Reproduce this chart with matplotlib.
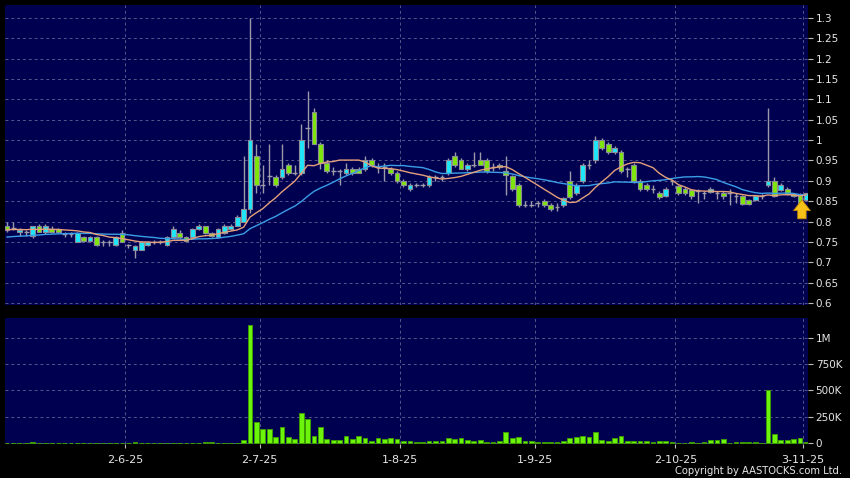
import numpy as np
import pandas as pd
import matplotlib
matplotlib.use("Agg")
import matplotlib.pyplot as plt

# ---------------- data ----------------
opens = [0.79, 0.785, 0.775, 0.775, 0.765, 0.79, 0.775, 0.782, 0.782, 0.77,
         0.77, 0.75, 0.762, 0.752, 0.762, 0.75, 0.75, 0.742, 0.772, 0.742,
         0.73, 0.73, 0.742, 0.75, 0.75, 0.742, 0.762, 0.772, 0.762, 0.762,
         0.782, 0.79, 0.772, 0.762, 0.772, 0.782, 0.79, 0.80, 0.83, 0.96,
         0.89, 0.912, 0.91, 0.91, 0.94, 0.92, 0.92, 1.03, 1.07, 0.99,
         0.945, 0.925, 0.925, 0.92, 0.93, 0.93, 0.93, 0.95, 0.935, 0.935,
         0.93, 0.92, 0.90, 0.88, 0.89, 0.89, 0.89, 0.91, 0.91, 0.92,
         0.96, 0.95, 0.93, 0.94, 0.95, 0.95, 0.935, 0.94, 0.925, 0.912,
         0.89, 0.84, 0.84, 0.845, 0.85, 0.84, 0.835, 0.84, 0.90, 0.87,
         0.90, 0.94, 0.95, 1.0, 0.99, 0.97, 0.97, 0.93, 0.94, 0.90,
         0.89, 0.88, 0.87, 0.862, 0.90, 0.887, 0.88, 0.877, 0.875, 0.87,
         0.872, 0.87, 0.87, 0.87, 0.862, 0.862, 0.853, 0.852, 0.862, 0.89,
         0.90, 0.877, 0.88, 0.867, 0.865, 0.852]
highs = [0.80, 0.80, 0.785, 0.78, 0.79, 0.795, 0.795, 0.79, 0.785, 0.775,
         0.775, 0.775, 0.765, 0.765, 0.765, 0.755, 0.755, 0.765, 0.78, 0.745,
         0.742, 0.752, 0.752, 0.755, 0.755, 0.765, 0.79, 0.78, 0.765, 0.785,
         0.795, 0.79, 0.775, 0.785, 0.795, 0.795, 0.815, 0.96, 1.30, 0.99,
         0.94, 0.99, 0.915, 0.99, 0.945, 0.94, 1.04, 1.12, 1.08, 0.995,
         0.95, 0.935, 0.93, 0.945, 0.935, 0.935, 0.96, 0.955, 0.945, 0.945,
         0.935, 0.925, 0.905, 0.895, 0.895, 0.895, 0.915, 0.915, 0.915, 0.955,
         0.97, 0.955, 0.945, 0.97, 0.97, 0.955, 0.945, 0.945, 0.96, 0.915,
         0.895, 0.85, 0.85, 0.85, 0.855, 0.845, 0.845, 0.86, 0.925, 0.895,
         0.945, 0.95, 1.01, 1.005, 0.995, 0.985, 0.975, 0.935, 0.945, 0.905,
         0.895, 0.89, 0.875, 0.885, 0.905, 0.89, 0.885, 0.88, 0.88, 0.875,
         0.885, 0.875, 0.875, 0.88, 0.87, 0.865, 0.855, 0.865, 0.868, 1.08,
         0.91, 0.895, 0.885, 0.87, 0.87, 0.87]
lows = [0.775, 0.78, 0.765, 0.765, 0.76, 0.775, 0.77, 0.772, 0.772, 0.762,
        0.762, 0.75, 0.75, 0.75, 0.74, 0.74, 0.74, 0.74, 0.75, 0.735,
        0.71, 0.73, 0.74, 0.745, 0.745, 0.74, 0.76, 0.76, 0.75, 0.76,
        0.78, 0.77, 0.762, 0.76, 0.77, 0.78, 0.79, 0.80, 0.82, 0.87,
        0.87, 0.89, 0.885, 0.905, 0.915, 0.915, 0.915, 0.98, 0.99, 0.93,
        0.92, 0.915, 0.89, 0.915, 0.915, 0.92, 0.925, 0.935, 0.92, 0.90,
        0.915, 0.895, 0.885, 0.875, 0.885, 0.885, 0.885, 0.90, 0.90, 0.915,
        0.935, 0.93, 0.925, 0.935, 0.94, 0.92, 0.925, 0.93, 0.865, 0.875,
        0.835, 0.835, 0.835, 0.835, 0.835, 0.825, 0.825, 0.835, 0.855, 0.865,
        0.895, 0.93, 0.945, 0.975, 0.965, 0.965, 0.92, 0.91, 0.895, 0.875,
        0.875, 0.87, 0.855, 0.86, 0.89, 0.865, 0.865, 0.855, 0.845, 0.855,
        0.87, 0.855, 0.855, 0.84, 0.845, 0.84, 0.84, 0.85, 0.855, 0.885,
        0.86, 0.875, 0.865, 0.86, 0.835, 0.85]
closes = [0.78, 0.785, 0.78, 0.775, 0.79, 0.775, 0.79, 0.775, 0.775, 0.77,
          0.77, 0.772, 0.752, 0.762, 0.742, 0.75, 0.75, 0.762, 0.75, 0.742,
          0.74, 0.75, 0.75, 0.75, 0.75, 0.762, 0.782, 0.762, 0.752, 0.782,
          0.79, 0.772, 0.764, 0.782, 0.79, 0.79, 0.81, 0.83, 1.0, 0.89,
          0.89, 0.912, 0.89, 0.93, 0.92, 0.92, 1.0, 1.03, 0.99, 0.945,
          0.925, 0.925, 0.925, 0.93, 0.92, 0.92, 0.95, 0.94, 0.935, 0.935,
          0.92, 0.90, 0.89, 0.89, 0.89, 0.89, 0.91, 0.91, 0.91, 0.95,
          0.94, 0.93, 0.94, 0.94, 0.94, 0.925, 0.935, 0.933, 0.915, 0.88,
          0.84, 0.84, 0.84, 0.845, 0.84, 0.83, 0.835, 0.858, 0.86, 0.89,
          0.94, 0.94, 1.0, 0.98, 0.97, 0.98, 0.925, 0.93, 0.90, 0.88,
          0.88, 0.88, 0.86, 0.88, 0.90, 0.87, 0.87, 0.862, 0.875, 0.87,
          0.88, 0.87, 0.862, 0.87, 0.862, 0.843, 0.843, 0.862, 0.862, 0.90,
          0.862, 0.89, 0.867, 0.862, 0.837, 0.87]
volumes_k = [4, 0, 3, 0, 5, 3, 4, 2, 2, 0,
             0, 3, 2, 2, 3, 0, 0, 3, 3, 0,
             10, 3, 2, 0, 0, 3, 4, 2, 2, 3,
             2, 5, 5, 3, 2, 3, 4, 30, 1120, 203,
             133, 133, 53, 152, 60, 40, 289, 229, 70, 152,
             38, 25, 25, 63, 38, 63, 44, 22, 48, 38,
             48, 41, 16, 16, 10, 6, 22, 22, 22, 51,
             38, 44, 25, 22, 32, 13, 13, 22, 108, 44,
             60, 22, 19, 13, 10, 10, 10, 19, 51, 54,
             70, 54, 105, 32, 19, 44, 63, 22, 22, 22,
             16, 13, 19, 16, 13, 4, 3, 5, 3, 13,
             29, 29, 38, 4, 6, 10, 5, 6, 4, 505,
             86, 32, 29, 38, 44, 10]

date_labels = ["2-6-25", "2-7-25", "1-8-25", "1-9-25", "2-10-25", "3-11-25"]
date_index = [19, 40, 62, 83, 105, 125]
price_ticks = [0.6, 0.65, 0.7, 0.75, 0.8, 0.85, 0.9, 0.95, 1.0, 1.05, 1.1, 1.15, 1.2, 1.25, 1.3]
vol_ticks = [0, 250000, 500000, 750000, 1000000]
vol_tick_labels = ["0", "250K", "500K", "750K", "1M"]
ma_fast_period, ma_fast_seed = 10, 0.78
ma_slow_period, ma_slow_seed = 20, 0.761

# ---------------- helpers ----------------
o = np.array(opens); h = np.array(highs); l = np.array(lows); c = np.array(closes)
v = np.array(volumes_k) * 1000.0
n = len(c)
x = np.arange(n)


def sma(values, period, seed):
    padded = np.r_[np.full(period - 1, seed), values]
    return pd.Series(padded).rolling(period).mean().values[period - 1:]


ma_fast = sma(c, ma_fast_period, ma_fast_seed)
ma_slow = sma(c, ma_slow_period, ma_slow_seed)

BG = "#000050"
CYAN = "#1ee6fa"
GREEN = "#7ee60a"
EDGE = "#8c8c98"
WICK = "#9a9aaa"
GRID = "#56568c"
TXT = "#e6e6e6"

fig = plt.figure(figsize=(8.5, 4.78), dpi=100, facecolor="black")
ax = fig.add_axes([5 / 850, 1 - 305 / 478, 803 / 850, 300 / 478], facecolor=BG)
axv = fig.add_axes([5 / 850, 1 - 444 / 478, 803 / 850, 126 / 478], facecolor=BG, sharex=ax)

for a in (ax, axv):
    for s in a.spines.values():
        s.set_visible(False)
    for di in date_index:
        a.axvline(di - 0.5, color=GRID, lw=0.7, ls=(0, (3, 3)), zorder=1)

# price panel
for t in price_ticks:
    ax.axhline(t, color=GRID, lw=0.7, ls=(0, (3, 3)), zorder=1)

ax.vlines(x, l, h, color=WICK, lw=1.0, zorder=2)
up = c > o
dn = c < o
eq = c == o
w = 0.74
ax.bar(x[up], (c - o)[up], bottom=o[up], width=w, color=CYAN, edgecolor=EDGE, lw=0.8, zorder=4)
ax.bar(x[dn], (o - c)[dn], bottom=c[dn], width=w, color=GREEN, edgecolor=EDGE, lw=0.8, zorder=4)
ax.hlines(c[eq], x[eq] - w / 2, x[eq] + w / 2, color=WICK, lw=1.0, zorder=3)

ax.plot(x, ma_slow, color="#3a9ee6", lw=1.0, zorder=5)
ax.plot(x, ma_fast, color="#e4a07a", lw=1.0, zorder=5)

# marker arrow at the latest bar
tip = c[-1] - 0.01
ax.annotate("", xy=(n - 1.7, tip), xytext=(n - 1.7, tip - 0.06),
            arrowprops=dict(arrowstyle="simple,head_length=0.7,head_width=1.1,tail_width=0.55",
                            fc="#f6c21a", ec="#c88a00", lw=0.6, mutation_scale=11),
            zorder=6)

ax.set_ylim(0.595, 1.332)
ax.set_xlim(-0.31, n - 0.75)
ax.yaxis.tick_right()
ax.set_yticks(price_ticks)
ax.set_yticklabels(["%g" % t for t in price_ticks])
ax.tick_params(axis="y", colors="#bbbbbb", labelcolor=TXT, labelsize=7.5, length=3.5, pad=2, width=0.8)
ax.tick_params(axis="x", bottom=False, labelbottom=False)

# volume panel
for t in vol_ticks:
    axv.axhline(t, color=GRID, lw=0.7, ls=(0, (3, 3)), zorder=1)
axv.bar(x, v, width=w, color="#6cf50a", edgecolor="#3c9a00", lw=0.7, zorder=3)
axv.set_ylim(-9500, 1.19e6)
axv.yaxis.tick_right()
axv.set_yticks(vol_ticks)
axv.set_yticklabels(vol_tick_labels)
axv.tick_params(axis="y", colors="#bbbbbb", labelcolor=TXT, labelsize=7.5, length=3.5, pad=2, width=0.8)
axv.set_xticks([di - 0.5 for di in date_index])
axv.set_xticklabels(date_labels)
axv.tick_params(axis="x", colors="#bbbbbb", labelcolor=TXT, labelsize=8, length=3, pad=5, width=0.8)

fig.text(842 / 850, 1 - 471 / 478, "Copyright by AASTOCKS.com Ltd.", color=TXT,
         fontsize=7.2, ha="right", va="center")

fig.savefig("out.png", dpi=100, facecolor="black")
